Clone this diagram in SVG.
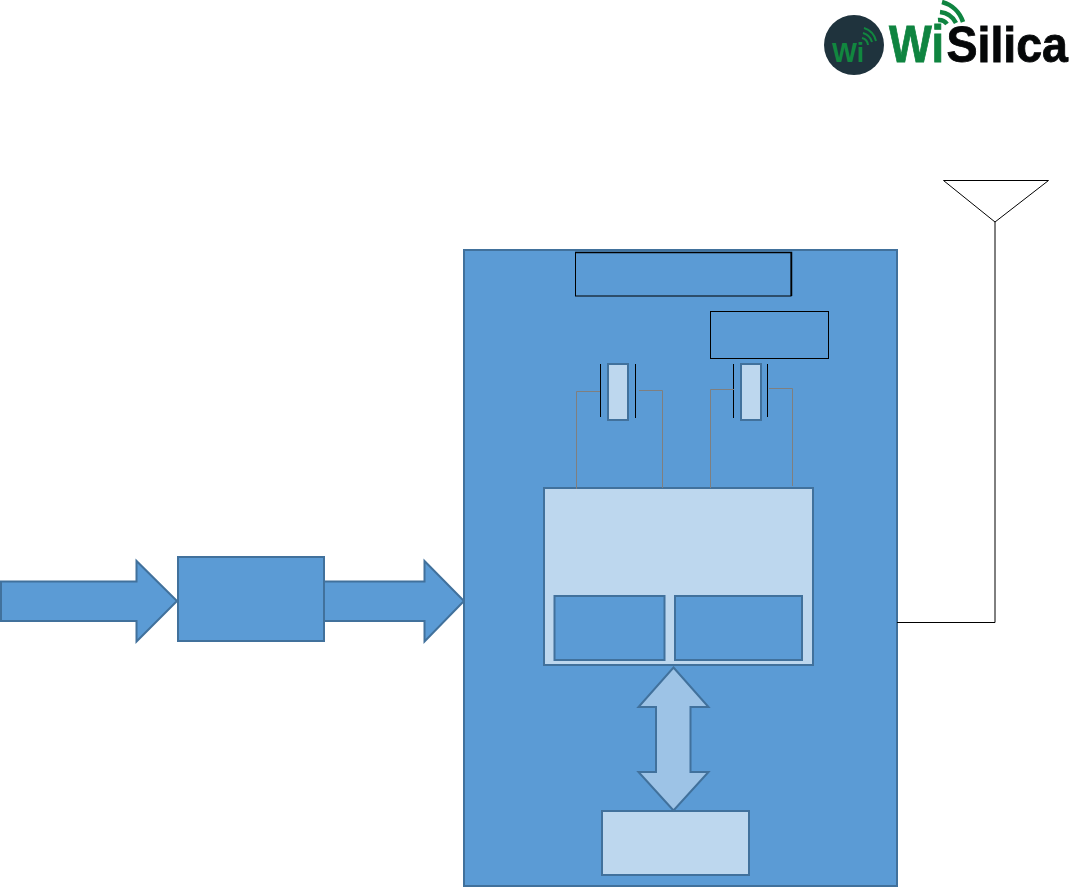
<svg xmlns="http://www.w3.org/2000/svg" width="1070" height="887" viewBox="0 0 1070 887">
<style>
.b{fill:#5b9bd5;stroke:#41719c;stroke-width:2}
.l{fill:#bdd7ee;stroke:#41719c;stroke-width:2}
.k{fill:none;stroke:#000;stroke-width:1}
.g{fill:none;stroke:#7f7f7f;stroke-width:1}
.logo{font-family:"Liberation Sans",Arial,sans-serif;font-weight:700}
</style>
<rect width="1070" height="887" fill="#fff"/>
<g id="logo">
<circle cx="854" cy="45" r="30" fill="#1f333d"/>
<text class="logo" x="832" y="62" font-size="27" textLength="32" lengthAdjust="spacingAndGlyphs" fill="#11873f">Wi</text>
<path d="M862 38a8 8 0 0 1 6 7M863 33a13 13 0 0 1 9 9M864 28a18 18 0 0 1 12 13" fill="none" stroke="#11873f" stroke-width="2"/>
<text class="logo" x="889" y="62" font-size="51" textLength="55" lengthAdjust="spacingAndGlyphs" fill="#0f8440" stroke="#0f8440" stroke-width="0.8">Wi</text>
<text class="logo" transform="translate(946.500 62) scale(1 1.07)" font-size="46.500" fill="#050708" stroke="#050708" stroke-width="0.8">Silica</text>
<path d="M938 20a10 10 0 0 1 9 4M940 12a20 20 0 0 1 16 11M942 2a30 30 0 0 1 21 20" fill="none" stroke="#0f8440" stroke-width="4.500"/>
</g>
<g id="antenna">
<path class="k" d="M943.500 180.500H1048.500L995 222Z"/>
</g>
<g id="input-arrow"><path class="b" d="M1 581.500H136.500V561L177 601 136.500 641.500V621H1Z"/></g>
<g id="output-arrow"><path class="b" d="M324 581.500H424.500V561L464 601 424.500 641.500V621H324Z"/></g>
<g id="converter"><rect class="b" x="178" y="557" width="146" height="84"/></g>
<g id="module"><rect class="b" x="464" y="250" width="433" height="636"/></g>
<g id="top-box"><rect x="575.500" y="252.500" width="215.500" height="43.500" fill="none" stroke="#000" stroke-width="1"/><path d="M575 252.500H791.500V296" fill="none" stroke="#000" stroke-width="1.500"/></g>
<g id="small-box"><rect class="k" x="710.500" y="311.500" width="118" height="47"/></g>
<g id="chip"><rect class="l" x="544" y="488" width="269" height="177"/></g>
<g id="chip-left"><rect class="b" x="554.500" y="596" width="110" height="64"/></g>
<g id="chip-right"><rect class="b" x="675" y="596" width="127" height="64"/></g>
<g id="crystal-1">
<rect class="l" x="608" y="364" width="20" height="56"/>
<path class="k" d="M600.500 364V417M635.500 364V418"/>
</g>
<g id="crystal-2">
<rect class="l" x="741" y="364" width="20" height="56"/>
<path class="k" d="M733.500 364V418M767.500 364V417"/>
</g>
<g id="memory"><rect class="l" x="602" y="811" width="147" height="64"/></g>
<g id="bus-arrow"><path d="M673.500 667.500 708.500 707H690.500V772H708.500L673.500 810.500 638.500 772H656V707H638.500Z" fill="#9dc3e6" stroke="#41719c" stroke-width="2"/></g>
<g id="connectors">
<path class="g" d="M600 391.500H576.500V489"/>
<path class="g" d="M639 390.500H662.500V488"/>
<path class="g" d="M734 389.500H710.500V488"/>
<path class="g" d="M769 388.500H792.500V486"/>
<path class="k" d="M995 222V622.500H897"/>
</g>
</svg>
